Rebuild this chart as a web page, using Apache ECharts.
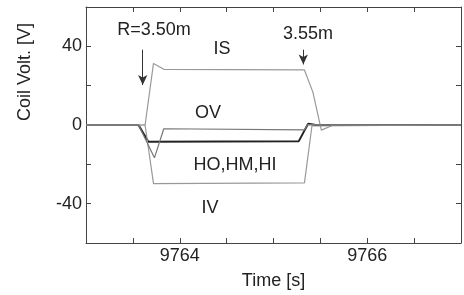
<!DOCTYPE html>
<html>
<head>
<meta charset="utf-8">
<script src="https://cdn.jsdelivr.net/npm/echarts@6/dist/echarts.min.js"></script>
<style>
  html, body { margin: 0; padding: 0; background: #fff; }
  #chart { width: 464px; height: 295px; }
</style>
</head>
<body>
<div id="chart"></div>
<script>
// time axis [s] and coil voltage [V]
var isTime = [9763, 9763.63, 9763.72, 9763.83, 9765.33, 9765.42, 9765.51, 9765.64, 9767];
var isVolt = [0, 0, 31.3, 28.3, 28, 16.7, -2.6, 0, 0];

var ivTime = [9763, 9763.63, 9763.72, 9765.33, 9765.41, 9767];
var ivVolt = [0, 0, -29.8, -29.4, -0.5, 0];

var ovTime = [9763, 9763.56, 9763.73, 9763.83, 9765.33, 9765.36, 9767];
var ovVolt = [0, 0, -16.7, -1.9, -2.5, 0.2, 0];

var hTime = [9763, 9763.56, 9763.665, 9765.27, 9765.37, 9765.45, 9767];
var hVolt = [0, 0, -8.5, -8.2, 0.7, 0, 0];

// arrows marking R=3.50m and R=3.55m
var arrowTime = [9763.605, 9765.318];
var arrowTop = [38.3, 38.3];
var arrowEnd = [20.3, 30.8];

var xLabels = [9764, 9766];
var yLabels = [40, 0, -40];

function pairs(t, v) {
    var out = [];
    for (var i = 0; i < t.length; i++) {
        out.push([t[i], v[i]]);
    }
    return out;
}

var font = 'Liberation Sans, Arial, Helvetica, sans-serif';
var frameColor = '#444';

var chart = echarts.init(document.getElementById('chart'));

var arrowLines = [];
for (var i = 0; i < arrowTime.length; i++) {
    arrowLines.push([
        { coord: [arrowTime[i], arrowTop[i]] },
        { coord: [arrowTime[i], arrowEnd[i]] }
    ]);
}

function frameAxis(extra) {
    var a = {
        axisLine: { show: true, onZero: false, lineStyle: { color: frameColor, width: 1 } },
        axisTick: { show: true, inside: true, length: 5, lineStyle: { color: frameColor } },
        splitLine: { show: false },
        axisLabel: { show: false }
    };
    for (var k in extra) a[k] = extra[k];
    return a;
}

var option = {
    animation: false,
    backgroundColor: '#fff',
    grid: { left: 86, right: 3, top: 7, bottom: 48 },
    xAxis: [
        frameAxis({
            type: 'value', position: 'bottom', min: 9763, max: 9767, interval: 0.5,
            name: 'Time [s]', nameLocation: 'middle', nameGap: 29,
            nameTextStyle: { fontSize: 18, color: '#222', fontFamily: font },
            axisLabel: {
                show: true, margin: 4, fontSize: 18, color: '#222', fontFamily: font,
                formatter: function (v) {
                    return xLabels.indexOf(v) >= 0 ? String(v) : '';
                }
            }
        }),
        frameAxis({ type: 'value', position: 'top', min: 9763, max: 9767, interval: 0.5 })
    ],
    yAxis: [
        frameAxis({
            type: 'value', position: 'left', min: -60, max: 60, interval: 20,
            axisLabel: {
                show: true, margin: 4, fontSize: 18, color: '#222', fontFamily: font,
                formatter: function (v) {
                    return yLabels.indexOf(v) >= 0 ? String(v) : '';
                }
            }
        }),
        frameAxis({ type: 'value', position: 'right', min: -60, max: 60, interval: 20 })
    ],
    graphic: [
        { type: 'text', x: 25, y: 72, rotation: Math.PI / 2,
          style: { text: 'Coil Volt. [V]', font: '18px ' + font, fill: '#222', align: 'center', verticalAlign: 'middle' } },
        { type: 'text', x: 154, y: 30,
          style: { text: 'R=3.50m', font: '18px ' + font, fill: '#222', align: 'center', verticalAlign: 'middle' } },
        { type: 'text', x: 308, y: 34,
          style: { text: '3.55m', font: '18px ' + font, fill: '#222', align: 'center', verticalAlign: 'middle' } },
        { type: 'text', x: 222, y: 49,
          style: { text: 'IS', font: '18px ' + font, fill: '#222', align: 'center', verticalAlign: 'middle' } },
        { type: 'text', x: 208, y: 113,
          style: { text: 'OV', font: '18px ' + font, fill: '#222', align: 'center', verticalAlign: 'middle' } },
        { type: 'text', x: 235, y: 165,
          style: { text: 'HO,HM,HI', font: '18px ' + font, fill: '#222', align: 'center', verticalAlign: 'middle' } },
        { type: 'text', x: 210, y: 208,
          style: { text: 'IV', font: '18px ' + font, fill: '#222', align: 'center', verticalAlign: 'middle' } }
    ],
    series: [
        // drawn first so the thin grey traces lie on top along the zero line
        {
            name: 'HO,HM,HI', type: 'line', symbol: 'none', data: pairs(hTime, hVolt),
            lineStyle: { color: '#222', width: 2 }
        },
        {
            name: 'IV', type: 'line', symbol: 'none', data: pairs(ivTime, ivVolt),
            lineStyle: { color: '#999', width: 1.2 }
        },
        {
            name: 'IS', type: 'line', symbol: 'none', data: pairs(isTime, isVolt),
            lineStyle: { color: '#999', width: 1.2 },
            markLine: {
                silent: true, symbol: ['none', 'arrow'], symbolSize: [7, 10],
                label: { show: false },
                lineStyle: { color: '#333', width: 1, type: 'solid' },
                data: arrowLines
            }
        },
        {
            name: 'OV', type: 'line', symbol: 'none', data: pairs(ovTime, ovVolt),
            lineStyle: { color: '#777', width: 1.2 }
        }
    ]
};

chart.setOption(option);
</script>
</body>
</html>
